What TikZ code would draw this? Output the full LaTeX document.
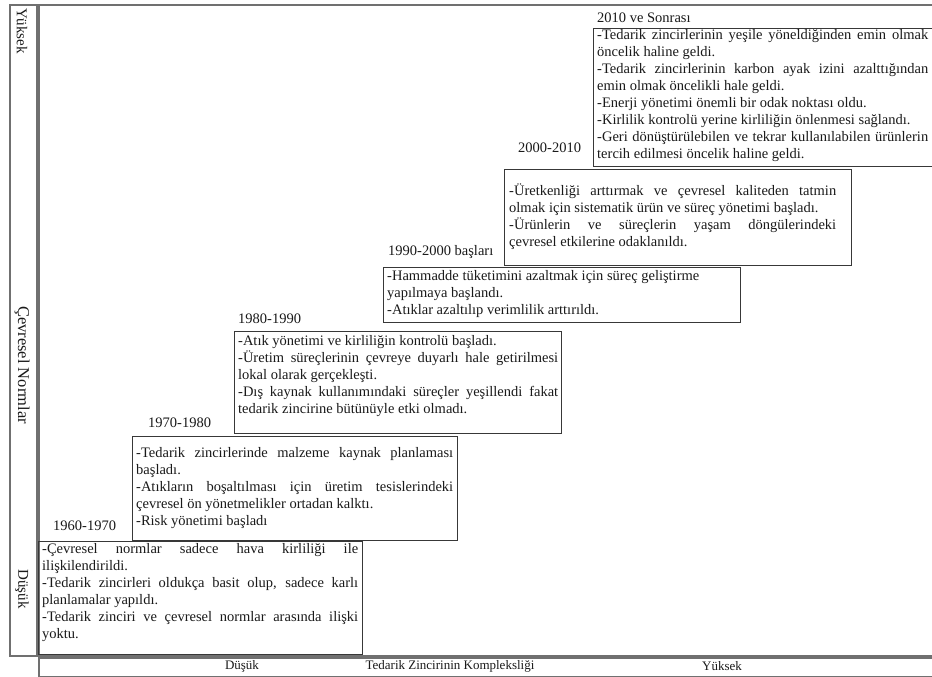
\documentclass[tikz,border=0pt]{standalone}
\usepackage{fontspec}
\setmainfont{Liberation Serif}
\newcommand{\jl}[1]{\makebox[\linewidth][s]{#1}}
\newcommand{\ptext}[2]{\parbox[t]{#1}{\fontsize{14.5}{17}\selectfont #2}}
\definecolor{framegray}{HTML}{707070}
\definecolor{boxgray}{HTML}{383838}
\definecolor{txt}{HTML}{1A1A1A}
\begin{document}
\begin{tikzpicture}[x=1pt,y=-1pt,
  frame/.style={draw=framegray, line width=1.7pt},
  period/.style={draw=boxgray, line width=1.1pt, inner sep=0pt, anchor=north west},
  lbl/.style={anchor=base west, inner sep=0pt, text=txt, font=\fontsize{14.5}{17}\selectfont},
  body/.style={anchor=base west, inner sep=0pt, text=txt},
  axis/.style={inner sep=0pt, text=txt, font=\fontsize{13}{15}\selectfont},
  vaxis/.style={inner sep=0pt, text=txt, rotate=-90, font=\fontsize{15}{17}\selectfont}]
\useasboundingbox (0,0) rectangle (932,677);
\clip (0,0) rectangle (932,677);
\fill[white] (0,0) rectangle (932,677);

% frames
\node[frame, inner sep=0pt, anchor=north west, minimum width=27pt, minimum height=651pt] (leftaxis) at (9,4) {};
\node[frame, inner sep=0pt, anchor=north west, minimum width=905pt, minimum height=651pt] (plot) at (38,4) {};
\node[frame, inner sep=0pt, anchor=north west, minimum width=905pt, minimum height=19pt] (bottomaxis) at (38,657) {};

% axis labels
\node[vaxis] (yhigh) at (22,31) {Yüksek};
\node[vaxis, font=\fontsize{16.5}{18}\selectfont] (ytitle) at (22,365) {Çevresel Normlar};
\node[vaxis] (ylow) at (22,589) {Düşük};
\node[axis] (xlow) at (242,666) {Düşük};
\node[axis] (xtitle) at (450,666) {Tedarik Zincirinin Kompleksliği};
\node[axis] (xhigh) at (722,666) {Yüksek};

% period boxes
\node[period, minimum width=341pt, minimum height=138pt] (b2010) at (593,28) {};
\node[period, minimum width=347pt, minimum height=96pt] (b2000) at (504,169) {};
\node[period, minimum width=357pt, minimum height=55pt] (b1990) at (383,267) {};
\node[period, minimum width=327pt, minimum height=102pt] (b1980) at (234,331) {};
\node[period, minimum width=325pt, minimum height=104pt] (b1970) at (132,436) {};
\node[period, minimum width=324pt, minimum height=113pt] (b1960) at (38,541) {};

% period labels
\node[lbl] (l2010) at (597,23) {2010 ve Sonrası};
\node[lbl] (l2000) at (518,152) {2000-2010};
\node[lbl] (l1990) at (388,255) {1990-2000 başları};
\node[lbl] (l1980) at (238,323) {1980-1990};
\node[lbl] (l1970) at (148,427) {1970-1980};
\node[lbl] (l1960) at (53,530) {1960-1970};

% texts
\node[body] (t2010) at (597,40) {\ptext{331pt}{%
\jl{-Tedarik zincirlerinin yeşile yöneldiğinden emin olmak}\\
öncelik haline geldi.\\
\jl{-Tedarik zincirlerinin karbon ayak izini azalttığından}\\
emin olmak öncelikli hale geldi.\\
-Enerji yönetimi önemli bir odak noktası oldu.\\
-Kirlilik kontrolü yerine kirliliğin önlenmesi sağlandı.\\
\jl{-Geri dönüştürülebilen ve tekrar kullanılabilen ürünlerin}\\
tercih edilmesi öncelik haline geldi.}};

\node[body] (t2000) at (509,195) {\ptext{327pt}{%
\jl{-Üretkenliği arttırmak ve çevresel kaliteden tatmin}\\
olmak için sistematik ürün ve süreç yönetimi başladı.\\
\jl{-Ürünlerin ve süreçlerin yaşam döngülerindeki}\\
çevresel etkilerine odaklanıldı.}};

\node[body] (t1990) at (387,280) {\ptext{350pt}{%
-Hammadde tüketimini azaltmak için süreç geliştirme\\
yapılmaya başlandı.\\
-Atıklar azaltılıp verimlilik arttırıldı.}};

\node[body] (t1980) at (238,345) {\ptext{320pt}{%
-Atık yönetimi ve kirliliğin kontrolü başladı.\\
\jl{-Üretim süreçlerinin çevreye duyarlı hale getirilmesi}\\
lokal olarak gerçekleşti.\\
\jl{-Dış kaynak kullanımındaki süreçler yeşillendi fakat}\\
tedarik zincirine bütünüyle etki olmadı.}};

\node[body] (t1970) at (136,457) {\ptext{317pt}{%
\jl{-Tedarik zincirlerinde malzeme kaynak planlaması}\\
başladı.\\
\jl{-Atıkların boşaltılması için üretim tesislerindeki}\\
çevresel ön yönetmelikler ortadan kalktı.\\
-Risk yönetimi başladı}};

\node[body] (t1960) at (42,553) {\ptext{316pt}{%
\jl{-Çevresel normlar sadece hava kirliliği ile}\\
ilişkilendirildi.\\
\jl{-Tedarik zincirleri oldukça basit olup, sadece karlı}\\
planlamalar yapıldı.\\
\jl{-Tedarik zinciri ve çevresel normlar arasında ilişki}\\
yoktu.}};
\end{tikzpicture}
\end{document}
